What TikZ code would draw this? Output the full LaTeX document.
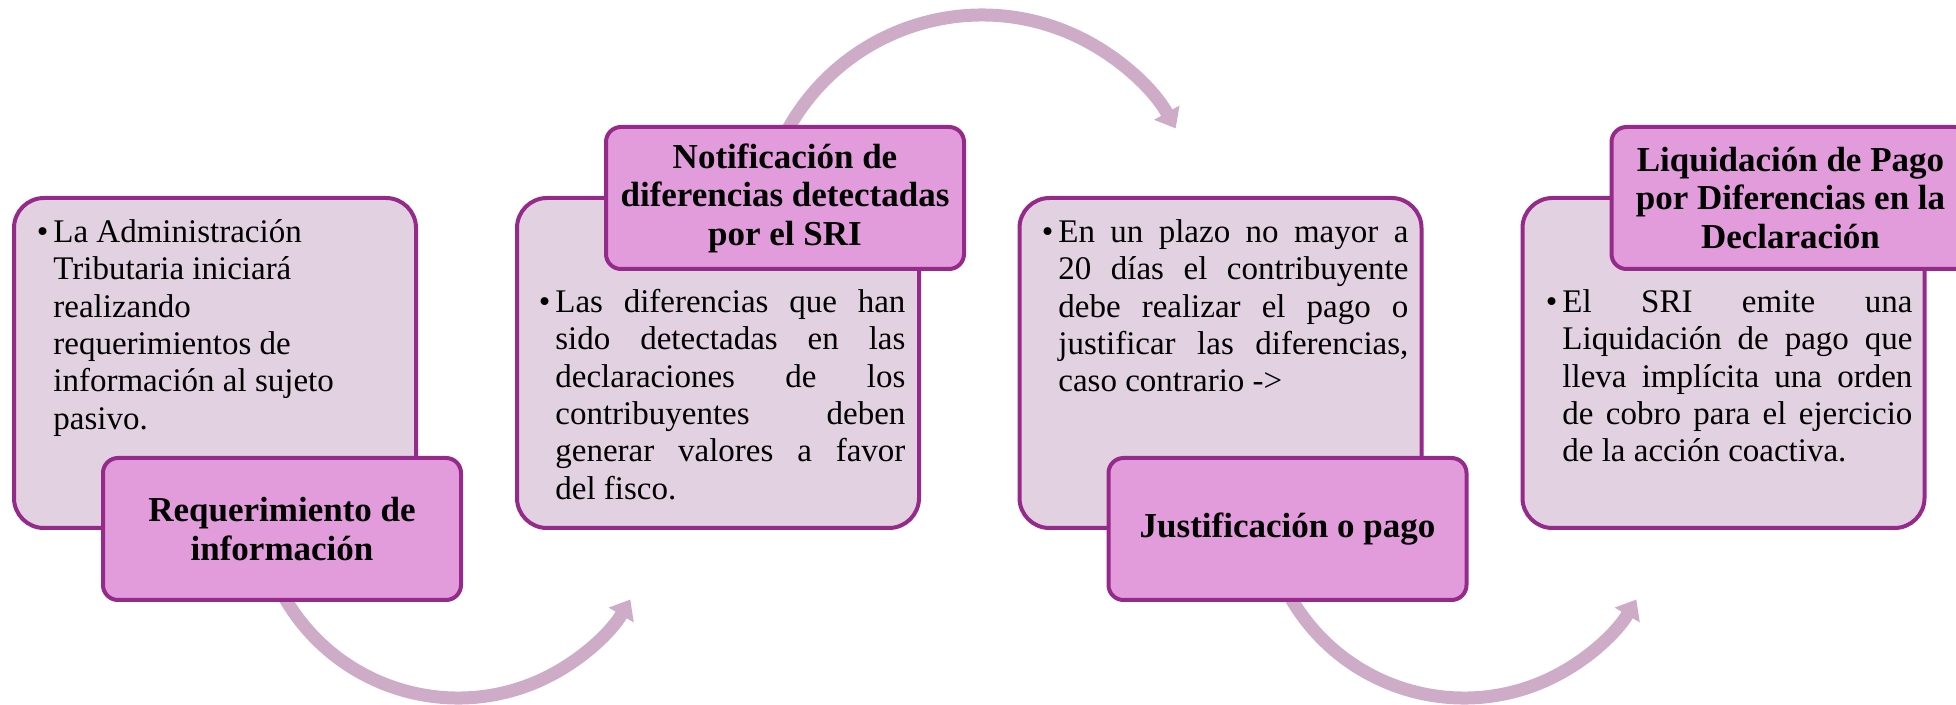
\documentclass[tikz,border=0pt]{standalone}
\usepackage{fontspec}
\setmainfont{Liberation Serif}
\usetikzlibrary{arrows.meta}
\definecolor{boxfill}{HTML}{E2D1E0}
\definecolor{titlefill}{HTML}{E39CDB}
\definecolor{edgecol}{HTML}{952A8A}
\definecolor{arccol}{HTML}{CEACC8}
\newcommand\fl[1]{\makebox[175pt][s]{#1}}
\newcommand\fs{\rule{0pt}{13pt}}
\newcommand\bul{\llap{•\hspace{2.5pt}}}
\begin{document}
\begin{tikzpicture}[x=0.5pt,y=-0.5pt,
  bodybox/.style={draw=edgecol, line width=2pt, fill=boxfill, rounded corners=15pt,
    minimum width=201pt, minimum height=165pt, inner sep=0pt},
  titlebox/.style={draw=edgecol, line width=2pt, fill=titlefill, rounded corners=7.5pt,
    minimum width=179pt, minimum height=71pt, inner sep=0pt, align=center,
    font=\fontsize{17.5}{19.25}\selectfont\bfseries},
  bodytext/.style={anchor=north west, inner sep=0pt, align=left,
    font=\fontsize{16.5}{18.7}\selectfont},
  flow/.style={draw=arccol, line width=6.5pt, -{Triangle[length=9pt,width=14pt]}}]
\useasboundingbox (0,0) rectangle (1956,705);
\clip (0,0) rectangle (1956,705);
% arcs
\coordinate (s1) at (279.8,588.8);
\coordinate (s2) at (782.5,139.7);
\coordinate (s3) at (1285.8,588.8);
\draw[flow] (s1) arc[start angle=153,end angle=30.5,radius=200];
\draw[flow] (s2) arc[start angle=206,end angle=330.7,radius=222];
\draw[flow] (s3) arc[start angle=153,end angle=30.5,radius=200];
% step 1
\node[bodybox] (b1) at (215,363) {};
\node[bodytext] (x1) at (53,216) {\fs\bul La Administración\\Tributaria iniciará\\realizando\\requerimientos de\\información al sujeto\\pasivo.};
\node[titlebox] (t1) at (282,529) {Requerimiento de\\información};
% step 2
\node[bodybox] (b2) at (718,363) {};
\node[bodytext] (x2) at (555,286) {\fs\bul\fl{Las diferencias que han}\\\fl{sido detectadas en las}\\\fl{declaraciones de los}\\\fl{contribuyentes deben}\\\fl{generar valores a favor}\\del fisco.};
\node[titlebox] (t2) at (785,198) {Notificación de\\diferencias detectadas\\por el SRI};
% step 3
\node[bodybox] (b3) at (1220.5,363) {};
\node[bodytext] (x3) at (1058,216) {\fs\bul\fl{En un plazo no mayor a}\\\fl{20 días el contribuyente}\\\fl{debe realizar el pago o}\\\fl{justificar las diferencias,}\\caso contrario ->};
\node[titlebox] (t3) at (1287.5,529) {Justificación o pago};
% step 4
\node[bodybox] (b4) at (1723.5,363) {};
\node[bodytext] (x4) at (1562,286) {\fs\bul\fl{El SRI emite una}\\\fl{Liquidación de pago que}\\\fl{lleva implícita una orden}\\\fl{de cobro para el ejercicio}\\de la acción coactiva.};
\node[titlebox] (t4) at (1790.5,198) {Liquidación de Pago\\por Diferencias en la\\Declaración};
\end{tikzpicture}
\end{document}
